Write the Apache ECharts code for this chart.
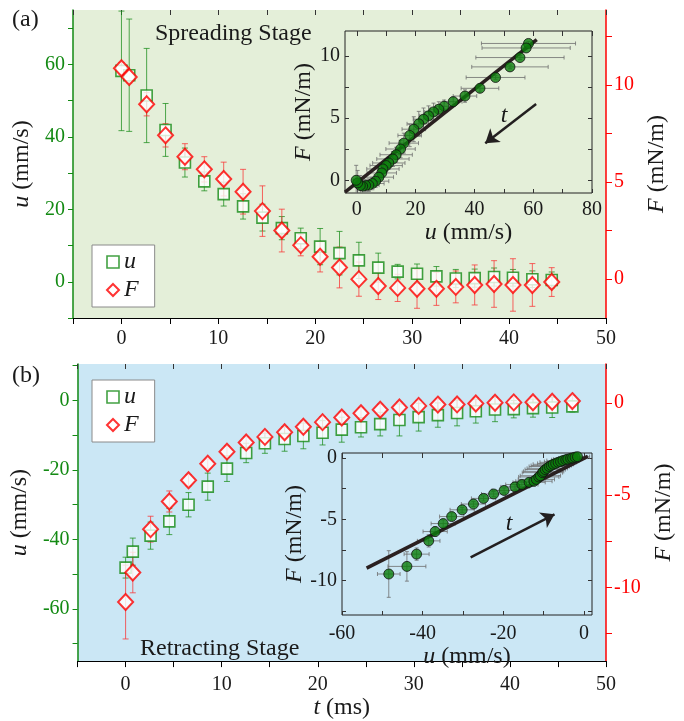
<!DOCTYPE html>
<html>
<head>
<meta charset="utf-8">
<title>Spreading and retracting stages</title>
<script src="https://cdn.jsdelivr.net/npm/echarts@6/dist/echarts.min.js"></script>
<style>
  html, body { margin: 0; padding: 0; background: #fff; }
  #chart { width: 684px; height: 721px; }
</style>
</head>
<body>
<div id="chart"></div>
<script>
// (a) spreading stage
var tSpread = [0, 0.8, 2.6, 4.55, 6.55, 8.55, 10.55, 12.55, 14.55, 16.55, 18.5, 20.5, 22.5, 24.5, 26.5, 28.5, 30.5, 32.5, 34.5, 36.45, 38.45, 40.4, 42.4, 44.4];
var uSpread = [58.2, 57.0, 51.4, 41.9, 32.9, 27.7, 24.2, 20.8, 17.7, 14.8, 12.0, 9.7, 7.9, 5.9, 3.9, 2.8, 2.2, 1.5, 0.9, 1.0, 1.3, 1.1, 0.7, 0.5];
var uSpreadErr = [16.5, 15.5, 13, 7.3, 4, 2.6, 3.3, 3.5, 3.7, 3.2, 2.8, 5, 6, 5, 4, 2, 2.7, 2.7, 2.5, 2.5, 2.5, 2.3, 2.3, 2.2];
var fSpread = [10.85, 10.4, 9.0, 7.4, 6.3, 5.65, 5.15, 4.5, 3.5, 2.5, 1.75, 1.15, 0.6, 0.0, -0.35, -0.45, -0.5, -0.5, -0.4, -0.3, -0.25, -0.3, -0.3, -0.15];
var fSpreadErr = [0.3, 0.3, 0.6, 0.6, 0.67, 0.65, 0.87, 1.15, 1.3, 1.1, 0.55, 0.78, 1.05, 0.88, 0.7, 0.7, 1.0, 0.85, 0.82, 1.03, 1.2, 1.35, 1.1, 0.74];

// (b) retracting stage
var tRetract = [0, 0.75, 2.6, 4.55, 6.55, 8.55, 10.55, 12.55, 14.5, 16.55, 18.5, 20.5, 22.5, 24.5, 26.5, 28.5, 30.5, 32.5, 34.5, 36.45, 38.45, 40.4, 42.4, 44.4, 46.5];
var uRetract = [-48.1, -43.5, -38.9, -34.8, -30.0, -24.8, -19.6, -15.1, -12.3, -11.1, -10.2, -9.3, -8.4, -7.7, -6.8, -5.6, -4.8, -4.2, -3.6, -3.1, -2.6, -2.5, -2.2, -2.0, -1.7];
var uRetractErr = [3, 3.9, 3.9, 3.8, 3.5, 3.9, 3.7, 2.8, 2.9, 3.5, 3.7, 3.5, 3.6, 2.8, 3.4, 4.6, 4.0, 3.5, 3.7, 3.4, 3.5, 2.5, 2.6, 2.9, 1.6];
var fRetract = [-10.8, -9.2, -6.85, -5.35, -4.2, -3.3, -2.65, -2.15, -1.85, -1.6, -1.3, -1.05, -0.8, -0.57, -0.38, -0.26, -0.17, -0.1, -0.09, -0.04, 0.0, 0.02, 0.03, 0.05, 0.09];
var fRetractErr = [2.0, 1.1, 0.7, 0.57, 0.3, 0.25, 0.3, 0.3, 0.3, 0.3, 0.3, 0.3, 0.3, 0.3, 0.3, 0.3, 0.3, 0.3, 0.3, 0.3, 0.3, 0.3, 0.3, 0.3, 0.3];

// inset (a): F against u
var insetAu = [58.4, 57.6, 55.5, 52.1, 47.2, 41.9, 36.8, 32.8, 29.7, 27.9, 26.1, 24.4, 22.7, 21.1, 19.4, 18.0, 16.0, 14.9, 13.4, 12.3, 10.9, 10.0, 8.9, 8.5, 7.5, 6.4, 5.3, 4.1, 3.0, 2.0, 1.2, 0.3, -0.2];
var insetAF = [11.0, 10.64, 9.87, 9.12, 8.27, 7.4, 6.78, 6.33, 5.96, 5.72, 5.51, 5.19, 4.92, 4.55, 4.12, 3.62, 3.0, 2.53, 2.07, 1.73, 1.41, 1.2, 0.93, 0.61, 0.27, -0.05, -0.24, -0.37, -0.4, -0.45, -0.4, -0.19, 0.02];
var insetAuErr = [16, 15, 15, 13, 10, 6.4, 4, 3, 3, 3, 3, 3, 3.5, 4, 4, 4, 5, 5, 5.5, 5.5, 5.5, 5.5, 5.5, 5, 5, 4.5, 4, 3.5, 3, 2.5, 2, 1.5, 1];
var insetAFErr = [0.15, 0.15, 0.15, 0.15, 0.15, 0.3, 0.5, 0.4, 0.5, 0.6, 0.7, 0.8, 0.9, 1.0, 1.0, 0.9, 0.8, 0.7, 0.6, 0.6, 0.5, 0.5, 0.5, 0.5, 0.5, 0.5, 0.5, 0.5, 0.5, 0.6, 0.8, 1.0, 1.2];
var fitAu = [-4, 61.2];
var fitAF = [-0.93, 11.3];
var arrowAu = [61, 43.7];
var arrowAF = [6.15, 3.0];

// inset (b)
var insetBu = [-48.4, -43.9, -41.5, -38.5, -36.9, -34.9, -32.8, -30.2, -27.4, -24.9, -22.4, -19.8, -17.1, -15.4, -13.6, -12.4, -11.8, -11.2, -10.8, -10.3, -10.0, -9.6, -9.1, -8.6, -8.1, -7.6, -7.0, -6.4, -5.8, -5.2, -4.5, -4.0, -3.3, -2.8, -2.2, -1.6];
var insetBF = [-9.46, -8.84, -7.84, -6.76, -6.0, -5.35, -4.78, -4.23, -3.76, -3.3, -2.94, -2.65, -2.36, -2.17, -1.99, -1.9, -1.75, -1.55, -1.45, -1.2, -1.1, -0.95, -0.85, -0.7, -0.62, -0.52, -0.45, -0.36, -0.3, -0.22, -0.15, -0.1, -0.04, 0.0, 0.06, 0.1];
var insetBuErr = [2.8, 4.7, 3.1, 2.8, 3, 3, 3, 3, 3, 3, 3, 3, 3.5, 4, 4, 4.5, 4.5, 5, 5, 5, 5, 5, 5, 5, 5, 5, 4.5, 4.5, 4, 4, 3.5, 3.5, 3, 3, 3, 3];
var insetBFErr = [1.9, 1.2, 0.5, 0.5, 0.4, 0.3, 0.3, 0.2, 0.2, 0.2, 0.2, 0.2, 0.2, 0.3, 0.3, 0.4, 0.4, 0.4, 0.4, 0.4, 0.4, 0.3, 0.3, 0.3, 0.3, 0.3, 0.3, 0.2, 0.2, 0.2, 0.2, 0.2, 0.2, 0.2, 0.2, 0.2];
var fitBu = [-53.9, 0.95];
var fitBF = [-8.98, 0.13];
var arrowBu = [-28.1, -7.3];
var arrowBF = [-8.1, -4.6];

// tick positions
var tTicks = [-5, 0, 5, 10, 15, 20, 25, 30, 35, 40, 45, 50];
var tLabels = [0, 10, 20, 30, 40, 50];
var uTicksA = [-10, 0, 10, 20, 30, 40, 50, 60, 70];
var uLabelsA = [0, 20, 40, 60];
var fTicksA = [0, 2.5, 5, 7.5, 10, 12.5];
var fLabelsA = [0, 5, 10];
var uTicksB = [-70, -60, -50, -40, -30, -20, -10, 0, 10];
var uLabelsB = [-60, -40, -20, 0];
var fTicksB = [-12.5, -10, -7.5, -5, -2.5, 0];
var fLabelsB = [-10, -5, 0];
var inAuTicks = [0, 10, 20, 30, 40, 50, 60, 70, 80];
var inAuLabels = [0, 20, 40, 60, 80];
var inAFTicks = [0, 2.5, 5, 7.5, 10];
var inAFLabels = [0, 5, 10];
var inBuTicks = [-60, -50, -40, -30, -20, -10, 0];
var inBuLabels = [-60, -40, -20, 0];
var inBFTicks = [-12.5, -10, -7.5, -5, -2.5, 0];
var inBFLabels = [-10, -5, 0];

var SERIF = '"Liberation Serif", "Times New Roman", serif';
var GREEN = '#138a13';
var RED = '#ff0000';
var INK = '#1a1a1a';

function zip() {
  var cols = Array.prototype.slice.call(arguments);
  return cols[0].map(function (_, i) { return cols.map(function (c) { return c[i]; }); });
}

// error bars drawn through the axes; with "both" the 3rd column is x error, 4th is y error
function errBars(color, cap, both) {
  return function (params, api) {
    var cs = params.coordSys;
    var x = api.value(0), y = api.value(1);
    var style = { stroke: color, lineWidth: 1 };
    var kids = [];
    function seg(x1, y1, x2, y2) {
      kids.push({ type: 'line', shape: { x1: x1, y1: y1, x2: x2, y2: y2 }, style: style });
    }
    var ey = api.value(both ? 3 : 2);
    var p1 = api.coord([x, y + ey]), p2 = api.coord([x, y - ey]);
    var top = Math.max(p1[1], cs.y), bot = Math.min(p2[1], cs.y + cs.height);
    seg(p1[0], top, p1[0], bot);
    if (p1[1] >= cs.y) seg(p1[0] - cap, p1[1], p1[0] + cap, p1[1]);
    if (p2[1] <= cs.y + cs.height) seg(p2[0] - cap, p2[1], p2[0] + cap, p2[1]);
    if (both) {
      var ex = api.value(2);
      var q1 = api.coord([x - ex, y]), q2 = api.coord([x + ex, y]);
      var l = Math.max(q1[0], cs.x), r = Math.min(q2[0], cs.x + cs.width);
      seg(l, q1[1], r, q1[1]);
      if (q1[0] >= cs.x) seg(q1[0], q1[1] - cap, q1[0], q1[1] + cap);
      if (q2[0] <= cs.x + cs.width) seg(q2[0], q2[1] - cap, q2[0], q2[1] + cap);
    }
    return { type: 'group', children: kids };
  };
}

function nameStyle(size) {
  return {
    fontFamily: SERIF, fontSize: size, color: INK,
    rich: { i: { fontFamily: SERIF, fontSize: size, fontStyle: 'italic', color: INK } }
  };
}

function tAxis(grid, withName) {
  var ax = {
    type: 'value', gridIndex: grid, min: -5, max: 50, position: 'bottom',
    axisLine: { show: true, onZero: false, lineStyle: { color: '#000', width: 1.2 } },
    axisTick: { show: true, length: 6, lineStyle: { color: '#000' }, customValues: tTicks },
    axisLabel: { customValues: tLabels, color: INK, fontFamily: SERIF, fontSize: 20, margin: withName ? 14 : 11 },
    splitLine: { show: false }
  };
  if (withName) {
    ax.name = '{i|t} (ms)';
    ax.nameLocation = 'middle';
    ax.nameGap = 25;
    ax.nameTextStyle = nameStyle(24);
  }
  return ax;
}

function topAxis(grid, min, max, ticks) {
  return {
    type: 'value', gridIndex: grid, min: min, max: max, position: 'top',
    axisLine: { show: false, onZero: false },
    axisTick: { show: true, inside: true, length: 5, lineStyle: { color: '#333' }, customValues: ticks },
    axisLabel: { show: false }, splitLine: { show: false }
  };
}

function sideAxis(grid, pos, min, max, ticks, labels, color, name, gap, tickLen) {
  return {
    type: 'value', gridIndex: grid, min: min, max: max, position: pos,
    axisLine: { show: true, onZero: false, lineStyle: { color: color, width: 1.5 } },
    axisTick: { show: true, length: tickLen, lineStyle: { color: color }, customValues: ticks },
    axisLabel: { customValues: labels, color: color, fontFamily: SERIF, fontSize: 20, margin: 8 },
    splitLine: { show: false },
    name: name, nameLocation: 'middle', nameRotate: 90, nameGap: gap, nameTextStyle: nameStyle(24)
  };
}

function insetX(grid, min, max, ticks, labels, margin, gap) {
  return {
    type: 'value', gridIndex: grid, min: min, max: max, position: 'bottom',
    axisLine: { show: false, onZero: false },
    axisTick: { show: true, inside: true, length: 4, lineStyle: { color: '#333' }, customValues: ticks },
    axisLabel: { customValues: labels, color: INK, fontFamily: SERIF, fontSize: 20, margin: margin },
    splitLine: { show: false },
    name: '{i|u} (mm/s)', nameLocation: 'middle', nameGap: gap, nameTextStyle: nameStyle(24)
  };
}

function insetY(grid, min, max, ticks, labels, gap) {
  return {
    type: 'value', gridIndex: grid, min: min, max: max, position: 'left',
    axisLine: { show: false, onZero: false },
    axisTick: { show: true, inside: true, length: 4, lineStyle: { color: '#333' }, customValues: ticks },
    axisLabel: { customValues: labels, color: INK, fontFamily: SERIF, fontSize: 20, margin: 5 },
    splitLine: { show: false },
    name: '{i|F} (mN/m)', nameLocation: 'middle', nameRotate: 90, nameGap: gap, nameTextStyle: nameStyle(24)
  };
}

function rightMirror(grid, min, max, ticks) {
  return {
    type: 'value', gridIndex: grid, min: min, max: max, position: 'right',
    axisLine: { show: false, onZero: false },
    axisTick: { show: true, inside: true, length: 4, lineStyle: { color: '#333' }, customValues: ticks },
    axisLabel: { show: false }, splitLine: { show: false }
  };
}

var squareStyle = { color: '#fff', borderColor: GREEN, borderWidth: 1.6 };
var diamondStyle = { color: '#fff', borderColor: RED, borderWidth: 2 };
var dotStyle = { color: '#0b7d0b', borderColor: '#111', borderWidth: 1 };

function legendAt(top) {
  return {
    orient: 'vertical', left: 92, top: top, selectedMode: false,
    padding: [5, 16, 5, 14], itemGap: 4, itemWidth: 12, itemHeight: 12,
    backgroundColor: '#fff', borderColor: '#8a8a8a', borderWidth: 1,
    textStyle: { fontFamily: SERIF, fontSize: 24, fontStyle: 'italic', color: INK, lineHeight: 22 },
    data: [
      { name: 'u', icon: 'rect', itemStyle: squareStyle },
      { name: 'F', icon: 'diamond', itemStyle: diamondStyle }
    ]
  };
}

var chart = echarts.init(document.getElementById('chart'), null, { renderer: 'canvas' });

chart.setOption({
  animation: false,
  backgroundColor: '#fff',
  grid: [
    { left: 73, top: 10, width: 533, height: 308, show: true, borderWidth: 0, backgroundColor: '#e4efd9' },
    { left: 73, top: 364, width: 533, height: 310, show: true, borderWidth: 0, backgroundColor: '#cbe7f5' },
    { left: 345, top: 31, width: 247, height: 162, show: true, borderWidth: 1, borderColor: '#222', backgroundColor: 'transparent' },
    { left: 342, top: 453, width: 250, height: 162, show: true, borderWidth: 1, borderColor: '#222', backgroundColor: 'transparent' }
  ],
  legend: [legendAt(245), legendAt(380)],
  xAxis: [
    tAxis(0, false),
    topAxis(0, -5, 50, tTicks),
    tAxis(1, true),
    topAxis(1, -5, 50, tTicks),
    insetX(2, -4, 80, inAuTicks, inAuLabels, 7, 21),
    topAxis(2, -4, 80, inAuTicks),
    insetX(3, -60, 2, inBuTicks, inBuLabels, 9, 25),
    topAxis(3, -60, 2, inBuTicks)
  ],
  yAxis: [
    sideAxis(0, 'left', -10, 75, uTicksA, uLabelsA, GREEN, '{i|u} (mm/s)', 33, 5),
    sideAxis(0, 'right', -2, 13.85, fTicksA, fLabelsA, RED, '{i|F} (mN/m)', 37, 6),
    sideAxis(1, 'left', -75, 10.5, uTicksB, uLabelsB, GREEN, '{i|u} (mm/s)', 33, 5),
    sideAxis(1, 'right', -14, 2.1, fTicksB, fLabelsB, RED, '{i|F} (mN/m)', 37, 6),
    insetY(2, -1, 12, inAFTicks, inAFLabels, 18),
    rightMirror(2, -1, 12, inAFTicks),
    insetY(3, -12.8, 0.4, inBFTicks, inBFLabels, 21),
    rightMirror(3, -12.8, 0.4, inBFTicks)
  ],
  series: [
    // (a)
    { type: 'custom', name: 'u err a', xAxisIndex: 0, yAxisIndex: 0, z: 2,
      renderItem: errBars('rgba(25,140,25,0.75)', 3, false), encode: { x: 0, y: 1 },
      data: zip(tSpread, uSpread, uSpreadErr) },
    { type: 'custom', name: 'F err a', xAxisIndex: 0, yAxisIndex: 1, z: 2,
      renderItem: errBars('rgba(250,50,50,0.75)', 3, false), encode: { x: 0, y: 1 },
      data: zip(tSpread, fSpread, fSpreadErr) },
    { type: 'scatter', name: 'u', xAxisIndex: 0, yAxisIndex: 0, z: 3, symbol: 'rect', symbolSize: 11,
      itemStyle: squareStyle, data: zip(tSpread, uSpread) },
    { type: 'scatter', name: 'F', xAxisIndex: 0, yAxisIndex: 1, z: 4, symbol: 'diamond', symbolSize: [15, 16],
      itemStyle: diamondStyle, data: zip(tSpread, fSpread) },
    // (b)
    { type: 'custom', name: 'u err b', xAxisIndex: 2, yAxisIndex: 2, z: 2,
      renderItem: errBars('rgba(25,140,25,0.75)', 3, false), encode: { x: 0, y: 1 },
      data: zip(tRetract, uRetract, uRetractErr) },
    { type: 'custom', name: 'F err b', xAxisIndex: 2, yAxisIndex: 3, z: 2,
      renderItem: errBars('rgba(250,50,50,0.75)', 3, false), encode: { x: 0, y: 1 },
      data: zip(tRetract, fRetract, fRetractErr) },
    { type: 'scatter', name: 'u', xAxisIndex: 2, yAxisIndex: 2, z: 3, symbol: 'rect', symbolSize: 11,
      itemStyle: squareStyle, data: zip(tRetract, uRetract) },
    { type: 'scatter', name: 'F', xAxisIndex: 2, yAxisIndex: 3, z: 4, symbol: 'diamond', symbolSize: [15, 16],
      itemStyle: diamondStyle, data: zip(tRetract, fRetract) },
    // inset (a)
    { type: 'custom', name: 'inset a err', xAxisIndex: 4, yAxisIndex: 4, z: 5,
      renderItem: errBars('rgba(110,110,110,0.8)', 2, true), encode: { x: 0, y: 1 },
      data: zip(insetAu, insetAF, insetAuErr, insetAFErr) },
    { type: 'line', name: 'fit a', xAxisIndex: 4, yAxisIndex: 4, z: 6, symbol: 'none',
      lineStyle: { color: '#2a2020', width: 3.5 }, data: zip(fitAu, fitAF) },
    { type: 'scatter', name: 'inset a', xAxisIndex: 4, yAxisIndex: 4, z: 7, symbol: 'circle', symbolSize: 10,
      itemStyle: dotStyle, data: zip(insetAu, insetAF) },
    { type: 'lines', name: 'time a', coordinateSystem: 'cartesian2d', xAxisIndex: 4, yAxisIndex: 4, z: 8,
      symbol: ['none', 'arrow'], symbolSize: 13, lineStyle: { color: '#231f20', width: 2.5, opacity: 1 },
      data: [{ coords: zip(arrowAu, arrowAF) }] },
    // inset (b)
    { type: 'custom', name: 'inset b err', xAxisIndex: 6, yAxisIndex: 6, z: 5,
      renderItem: errBars('rgba(110,110,110,0.8)', 2, true), encode: { x: 0, y: 1 },
      data: zip(insetBu, insetBF, insetBuErr, insetBFErr) },
    { type: 'line', name: 'fit b', xAxisIndex: 6, yAxisIndex: 6, z: 6, symbol: 'none',
      lineStyle: { color: '#2a2020', width: 3.5 }, data: zip(fitBu, fitBF) },
    { type: 'scatter', name: 'inset b', xAxisIndex: 6, yAxisIndex: 6, z: 7, symbol: 'circle', symbolSize: 10,
      itemStyle: dotStyle, data: zip(insetBu, insetBF) },
    { type: 'lines', name: 'time b', coordinateSystem: 'cartesian2d', xAxisIndex: 6, yAxisIndex: 6, z: 8,
      symbol: ['none', 'arrow'], symbolSize: 13, lineStyle: { color: '#231f20', width: 2.5, opacity: 1 },
      data: [{ coords: zip(arrowBu, arrowBF) }] }
  ],
  graphic: [
    { type: 'text', x: 12, y: 20, z: 10, style: { text: '(a)', font: '24px ' + SERIF, fill: INK, verticalAlign: 'middle' } },
    { type: 'text', x: 12, y: 376, z: 10, style: { text: '(b)', font: '24px ' + SERIF, fill: INK, verticalAlign: 'middle' } },
    { type: 'text', x: 155, y: 34, z: 10, style: { text: 'Spreading Stage', font: '24px ' + SERIF, fill: INK, verticalAlign: 'middle' } },
    { type: 'text', x: 140, y: 649, z: 10, style: { text: 'Retracting Stage', font: '24px ' + SERIF, fill: INK, verticalAlign: 'middle' } },
    { type: 'text', x: 504, y: 116, z: 10, style: { text: 't', font: 'italic 24px ' + SERIF, fill: INK, align: 'center', verticalAlign: 'middle' } },
    { type: 'text', x: 509, y: 524, z: 10, style: { text: 't', font: 'italic 24px ' + SERIF, fill: INK, align: 'center', verticalAlign: 'middle' } }
  ]
});
</script>
</body>
</html>
